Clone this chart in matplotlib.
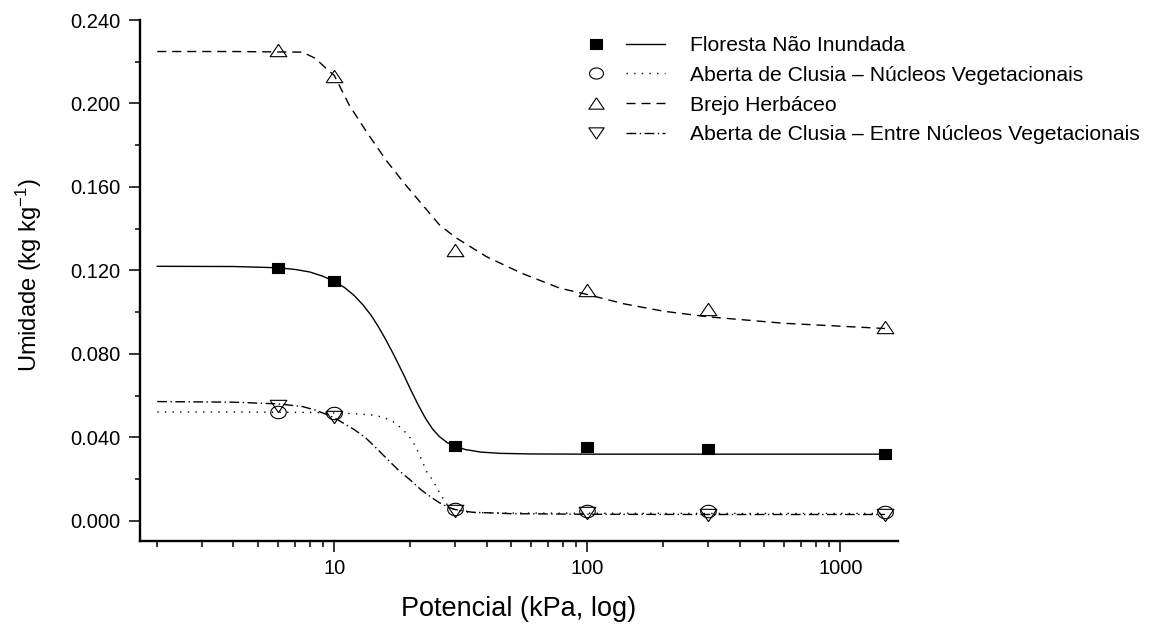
import numpy as np
import matplotlib
matplotlib.use("Agg")
import matplotlib.pyplot as plt
from matplotlib.lines import Line2D
from matplotlib.legend_handler import HandlerTuple
from matplotlib.ticker import FixedLocator, NullFormatter, FixedFormatter, MultipleLocator, FormatStrFormatter

plt.rcParams['font.family'] = ['Liberation Sans', 'DejaVu Sans']
plt.rcParams['mathtext.fontset'] = 'custom'
plt.rcParams['mathtext.rm'] = 'Liberation Sans'
plt.rcParams['mathtext.it'] = 'Liberation Sans'

# pontos medidos
potencial = [6, 10, 30, 100, 300, 1500]
floresta = [0.1214, 0.1150, 0.0359, 0.0355, 0.0345, 0.0320]
nucleos = [0.0524, 0.0516, 0.0056, 0.0049, 0.0049, 0.0043]
brejo = [0.2258, 0.2132, 0.1299, 0.1107, 0.1014, 0.0928]
entre = [0.0551, 0.0497, 0.0050, 0.0037, 0.0029, 0.0029]

# curvas ajustadas
fl_x = [2, 4, 6, 7, 8, 9, 10, 11, 12, 13, 14, 15, 16, 17, 18, 19, 20, 21.5, 23, 24.5,
        26, 28, 30, 33, 38, 45, 60, 100, 300, 1500]
fl_y = [0.1220, 0.1219, 0.1213, 0.1205, 0.1193, 0.1173, 0.1148, 0.1118, 0.1080, 0.1035,
        0.0985, 0.0928, 0.0868, 0.0808, 0.0748, 0.0690, 0.0632, 0.0555, 0.0490, 0.0440,
        0.0405, 0.0375, 0.0358, 0.0342, 0.0330, 0.0324, 0.0321, 0.0320, 0.0320, 0.0320]

nu_x = [2, 4, 8, 10, 12, 14, 15.5, 17, 18, 19, 20.3, 21.3, 22.2, 23.2, 24.5, 25.5, 26.7, 28,
        30, 35, 50, 100, 300, 1500]
nu_y = [0.0522, 0.0522, 0.0520, 0.0517, 0.0514, 0.0508, 0.0498, 0.0478, 0.0455, 0.0428,
        0.0388, 0.0340, 0.0292, 0.0236, 0.0196, 0.0157, 0.0116, 0.0077, 0.0050, 0.0040,
        0.0038, 0.0037, 0.0036, 0.0036]

br_x = [2, 4, 7.5, 8.4, 9.6, 10, 11.5, 13.5, 16, 19, 22.5, 26, 30, 40, 55, 78, 100, 140,
        200, 300, 600, 1500]
br_y = [0.2249, 0.2249, 0.2246, 0.2217, 0.2153, 0.2135, 0.1990, 0.1860, 0.1730, 0.1615,
        0.1510, 0.1420, 0.1360, 0.1266, 0.1187, 0.1115, 0.1085, 0.1040, 0.1005, 0.0978,
        0.0947, 0.0922]

en_x = [2, 4, 6, 7.5, 8.5, 10, 11, 12, 13.3, 14.7, 16.4, 18, 20, 22, 24, 26, 28, 30, 35,
        50, 100, 300, 1500]
en_y = [0.0572, 0.0569, 0.0561, 0.0548, 0.0530, 0.0495, 0.0465, 0.0438, 0.0399, 0.0348,
        0.0290, 0.0242, 0.0196, 0.0150, 0.0116, 0.0088, 0.0068, 0.0055, 0.0042, 0.0035,
        0.0032, 0.0031, 0.0031]

labels = ['Floresta Não Inundada',
          'Aberta de Clusia – Núcleos Vegetacionais',
          'Brejo Herbáceo',
          'Aberta de Clusia – Entre Núcleos Vegetacionais']

fig = plt.figure(figsize=(11.64, 6.25), dpi=100)
ax = fig.add_axes([0.1203, 0.1344, 0.6512, 0.8336])

# marcadores um pouco mais largos que altos, como no original
sq = [(-1, -0.85), (1, -0.85), (1, 0.85), (-1, 0.85), (-1, -0.85)]
t = np.linspace(0, 2 * np.pi, 41)
circ = list(zip(np.cos(t), 0.8 * np.sin(t)))
tri_up = [(0, 0.74), (-1, -0.74), (1, -0.74), (0, 0.74)]
tri_dn = [(0, -0.74), (-1, 0.74), (1, 0.74), (0, -0.74)]

ls_solid = '-'
ls_dot = (0, (1.0, 4.5))
ls_dash = (0, (6.5, 4.3))
ls_dashdot = (0, (7, 2.5, 1, 2.5))

lw = 1.0
ax.plot(fl_x, fl_y, color='k', lw=lw, ls=ls_solid, zorder=3)
ax.plot(nu_x, nu_y, color='k', lw=lw, ls=ls_dot, zorder=3)
ax.plot(br_x, br_y, color='k', lw=lw, ls=ls_dash, zorder=3)
ax.plot(en_x, en_y, color='k', lw=lw, ls=ls_dashdot, zorder=3)

mk = dict(ls='none', mec='k', mew=0.8, zorder=2)
ax.plot(potencial, floresta, marker=sq, ms=8.8, mfc='k', **mk)
ax.plot(potencial, nucleos, marker=circ, ms=11.2, mfc='none', **mk)
ax.plot(potencial, brejo, marker=tri_up, ms=12, mfc='none', **mk)
ax.plot(potencial, entre, marker=tri_dn, ms=12, mfc='none', **mk)

ax.set_xscale('log')
ax.set_xlim(1.71, 1690)
ax.set_ylim(-0.0096, 0.240)

ax.xaxis.set_major_locator(FixedLocator([10, 100, 1000]))
ax.xaxis.set_major_formatter(FixedFormatter(['10', '100', '1000']))
minors = [m * d for d in (1, 10, 100) for m in range(2, 10)]
ax.xaxis.set_minor_locator(FixedLocator(minors))
ax.xaxis.set_minor_formatter(NullFormatter())

ax.yaxis.set_major_locator(MultipleLocator(0.04))
ax.yaxis.set_minor_locator(MultipleLocator(0.02))
ax.yaxis.set_major_formatter(FormatStrFormatter('%.3f'))

for s in ['top', 'right']:
    ax.spines[s].set_visible(False)
for s in ['left', 'bottom']:
    ax.spines[s].set_linewidth(1.7)

ax.tick_params(axis='both', which='major', direction='out', width=1.1, labelsize=14.5)
ax.tick_params(axis='x', which='major', length=8, pad=5)
ax.tick_params(axis='x', which='minor', length=4.5, width=1.1)
ax.tick_params(axis='y', which='major', length=8, pad=6)
ax.tick_params(axis='y', which='minor', length=3.5, width=1.1)

ax.set_xlabel('Potencial (kPa, log)', fontsize=19.5, va='center')
ax.xaxis.set_label_coords(0.4996, -0.1305)
ax.set_ylabel('Umidade (kg kg$^{-1}$)', fontsize=17, va='center')
ax.yaxis.set_label_coords(-0.147, 0.5106)

handles = []
for m, ms, fc, ls in [(sq, 8.8, 'k', ls_solid), (circ, 10, 'none', ls_dot),
                      (tri_up, 11, 'none', ls_dash), (tri_dn, 11, 'none', ls_dashdot)]:
    h_m = Line2D([], [], ls='none', marker=m, ms=ms, mfc=fc, mec='k', mew=0.8)
    h_l = Line2D([], [], color='k', lw=lw, ls=ls)
    handles.append((h_m, h_l))

leg = fig.legend(handles, labels, handler_map={tuple: HandlerTuple(ndivide=2, pad=0.48)},
                 loc='upper left', bbox_to_anchor=(577 / 1164, 1 - 36 / 625), frameon=False,
                 fontsize=15.2, handlelength=4.15, handletextpad=1.18, labelspacing=0.51,
                 borderpad=0, borderaxespad=0)

fig.savefig('out.png', dpi=100)
